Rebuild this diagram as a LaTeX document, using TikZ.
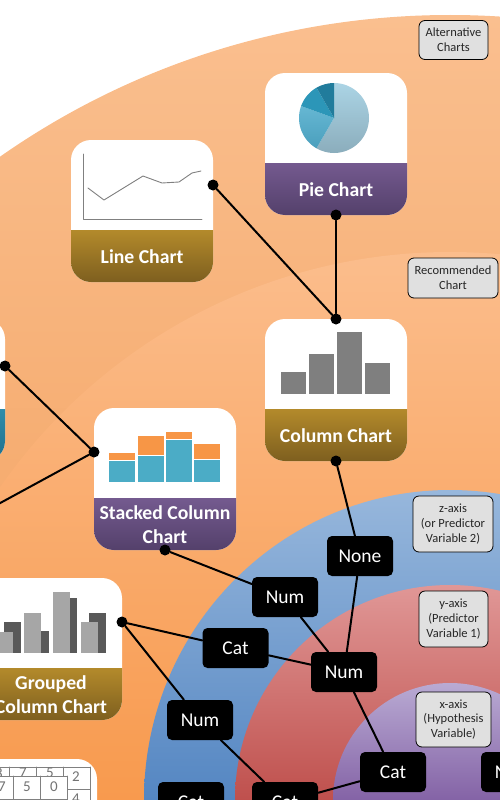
\documentclass[tikz,border=0pt]{standalone}
\usepackage{fontspec}
\setsansfont{Carlito}
\usepackage{xcolor}
\usepackage{tikz}
\usetikzlibrary{positioning,shapes.geometric}
\definecolor{ctAltTop}{HTML}{FABF8F}
\definecolor{ctAltBot}{HTML}{F3A05C}
\definecolor{ctRecTop}{HTML}{FBBD8C}
\definecolor{ctRecBot}{HTML}{F89A4E}
\definecolor{ctBlueTop}{HTML}{97B7DC}
\definecolor{ctBlueBot}{HTML}{5486C2}
\definecolor{ctRedTop}{HTML}{E09796}
\definecolor{ctRedBot}{HTML}{BF504D}
\definecolor{ctVioTop}{HTML}{B9AAD3}
\definecolor{ctVioBot}{HTML}{8463A6}
\definecolor{ctGoldTop}{HTML}{B38A2B}
\definecolor{ctGoldBot}{HTML}{7E5F1F}
\definecolor{ctPlumTop}{HTML}{745A8F}
\definecolor{ctPlumBot}{HTML}{54406B}
\definecolor{ctTealTop}{HTML}{2F8DAA}
\definecolor{ctTealBot}{HTML}{1F6F8C}
\definecolor{ctBar}{HTML}{7F7F7F}
\definecolor{ctBarLight}{HTML}{A6A6A6}
\definecolor{ctBarDark}{HTML}{595959}
\definecolor{ctStackLow}{HTML}{4BACC6}
\definecolor{ctStackHigh}{HTML}{F79646}
\definecolor{ctLabel}{HTML}{E0E0E0}
\definecolor{ctPieOneTop}{HTML}{ABD4E5}
\definecolor{ctPieOneBot}{HTML}{8BADBC}
\definecolor{ctPieTwoTop}{HTML}{66B7D3}
\definecolor{ctPieTwoBot}{HTML}{4A9FBD}
\definecolor{ctPieThree}{HTML}{2C96B8}
\definecolor{ctPieFour}{HTML}{217C9C}
\tikzset{
  ct diagram/.style={font=\sffamily, line cap=round, line join=round},
  ct card/.style={fill=white, rounded corners=20pt, minimum width=142pt,
    minimum height=142pt, inner sep=0pt},
  ct title/.style={text=white, align=center, inner sep=0pt,
    font=\sffamily\bfseries\fontsize{19.7}{24}\selectfont},
  ct tag/.style={fill=black, text=white, rounded corners=5pt, minimum width=66pt,
    minimum height=40pt, inner sep=0pt, font=\sffamily\fontsize{19.5}{22}\selectfont},
  ct label/.style={draw=black, fill=ctLabel, line width=0.8pt, rounded corners=6pt,
    align=center, inner sep=0pt, text=black!85,
    font=\sffamily\fontsize{12.5}{14.7}\selectfont},
  ct dot/.style={circle, fill=black, minimum size=11pt, inner sep=0pt},
  ct link/.style={draw=black, line width=2pt},
  ct digit/.style={text=black!55, inner sep=0pt, font=\sffamily\fontsize{15}{15}\selectfont},
  ct grid/.style={draw=black!50, line width=0.6pt},
  ct curve/.style={draw=black!50, line width=0.9pt}
}
% name, left, top, band colour, title
\newcommand{\chartcard}[5]{
  \node[ct card] (#1) at (#2+71,#3+71) {};
  \shade[top color=#4Top,bottom color=#4Bot] (#2,#3+90)
    {[rounded corners=20pt] -- (#2,#3+142) -- (#2+142,#3+142)} -- (#2+142,#3+90) -- cycle;
  \node[ct title] (#1Title) at (#2+71,#3+117) {#5};
}

\begin{document}
\begin{tikzpicture}[ct diagram,x=1pt,y=-1pt]
\useasboundingbox (0,0) rectangle (500,800);
\clip (0,0) rectangle (500,800);
% rings around one centre on the lower edge
\foreach \rx/\ry/\c in {785/785/ctAlt,548/548/ctRec,306/310/ctBlue,215/215/ctRed,117/117/ctVio}
  \shade[top color=\c Top,bottom color=\c Bot] (450-\rx,800)
    arc[start angle=180,end angle=0,x radius=\rx pt,y radius=\ry pt] -- cycle;
% cards
\chartcard{pie}{265}{73}{ctPlum}{Pie Chart}
\chartcard{line}{71}{140}{ctGold}{Line Chart}
\chartcard{column}{265}{319}{ctGold}{Column Chart}
\chartcard{side}{-137}{319}{ctTeal}{}
\chartcard{stacked}{94}{408}{ctPlum}{Stacked Column\\Chart}
\chartcard{grouped}{-20}{578}{ctGold}{Grouped\\Column Chart}
\node[ct card] (table) at (26,830) {};
% pie
\shade[top color=ctPieOneTop,bottom color=ctPieOneBot] (334,118) -- ++(90:35pt) arc[start angle=90,end angle=-120,radius=35pt] -- cycle;
\shade[top color=ctPieTwoTop,bottom color=ctPieTwoBot] (334,118) -- ++(240:35pt) arc[start angle=240,end angle=160,radius=35pt] -- cycle;
\fill[ctPieThree] (334,118) -- ++(160:35pt) arc[start angle=160,end angle=120,radius=35pt] -- cycle;
\fill[ctPieFour] (334,118) -- ++(120:35pt) arc[start angle=120,end angle=90,radius=35pt] -- cycle;
% line chart
\draw[ct curve] (83,154) -- (83,219) -- (202,219);
\draw[ct curve] (88,188) -- (104,200) -- (143,176) -- (162,183) -- (179,182) -- (192,173) -- (201,171);
% column chart
\foreach \a/\b in {281/372,309/354,337/332,365/363}
  \fill[ctBar] (\a,394) rectangle (\a+25,\b);
% stacked chart
\foreach \a/\b/\c in {109/461/453,138/456/436,166/440/432,194/460/444}{
  \fill[ctStackLow] (\a,482) rectangle (\a+25.5,\b);
  \fill[ctStackHigh] (\a,\b-1) rectangle (\a+25.5,\c);
}
% grouped chart
\foreach \a/\b in {4/622,41/631,69/598,89/613}
  \fill[ctBarDark] (\a,653) rectangle (\a+\ifnum\a=41 8\else\ifnum\a=69 8\else 17\fi\fi,\b);
\foreach \a/\b in {-4/632,24/613,53/592,81/622}
  \fill[ctBarLight] (\a,653) rectangle (\a+16.5,\b);
% table
\foreach \a in {9,36,63,90}
  \draw[ct grid] (\a,767) -- (\a,800);
\draw[ct grid] (0,767) -- (90,767);
\draw[ct grid] (63,789) -- (90,789);
\foreach \a/\b/\t in {-1/773/8,23/773/7,50/773/5,76/777/2,76/799/4}
  \node[ct digit] (digit\a\b) at (\a,\b) {\t};
\fill[white] (-5,776) rectangle (67,800);
\foreach \a in {13,40,67}
  \draw[ct grid] (\a,776) -- (\a,800);
\draw[ct grid] (0,776) -- (67,776);
\draw[ct grid] (0,799.5) -- (67,799.5);
\foreach \a/\t in {2/7,27/5,54/0}
  \node[ct digit] (front\t) at (\a,787) {\t};
% tags
\node[ct tag] (none) at (360,556) {None};
\node[ct tag] (numZ) at (285,597) {Num};
\node[ct tag] (numY) at (344,672) {Num};
\node[ct tag] (catZ) at (235.5,648) {Cat};
\node[ct tag] (numLow) at (200,720) {Num};
\node[ct tag] (catLow) at (191,802) {Cat};
\node[ct tag] (catY) at (285,802) {Cat};
\node[ct tag] (catX) at (393,772) {Cat};
\node[ct tag] (numX) at (514,772) {Num};
% dots
\foreach \n/\a/\b in {pieDot/336/215,lineDot/213/185,columnTop/336/319,columnBottom/336/461,sideDot/5/366,stackedWest/94/452,stackedSouth/165/550,groupedDot/122/622}
  \node[ct dot] (\n) at (\a,\b) {};
\coordinate (offLeft) at (-20,514);
% links
\draw[ct link] (pieDot) -- (columnTop);
\draw[ct link] (lineDot) -- (columnTop);
\draw[ct link] (sideDot) -- (stackedWest);
\draw[ct link] (offLeft) -- (stackedWest);
\draw[ct link] (columnBottom) -- (none);
\draw[ct link] (none) -- (numY);
\draw[ct link] (stackedSouth) -- (numZ);
\draw[ct link] (numZ) -- (numY);
\draw[ct link] (groupedDot) -- (catZ);
\draw[ct link] (catZ) -- (numY);
\draw[ct link] (groupedDot) -- (numLow);
\draw[ct link] (numLow) -- (catY);
\draw[ct link] (catY) -- (catX);
\draw[ct link] (numY) -- (catX);
% labels
\node[ct label,minimum width=69pt,minimum height=39pt] (altLabel) at (453.5,40) {Alternative\\Charts};
\node[ct label,minimum width=90pt,minimum height=40pt] (recLabel) at (453,278) {Recommended\\Chart};
\node[ct label,minimum width=80pt,minimum height=56pt] (zLabel) at (453,524) {z-axis\\(or Predictor\\Variable 2)};
\node[ct label,minimum width=69pt,minimum height=56pt] (yLabel) at (453.5,619) {y-axis\\(Predictor\\Variable 1)};
\node[ct label,minimum width=75pt,minimum height=55pt] (xLabel) at (453.5,719.5) {x-axis\\(Hypothesis\\Variable)};
\end{tikzpicture}
\end{document}
